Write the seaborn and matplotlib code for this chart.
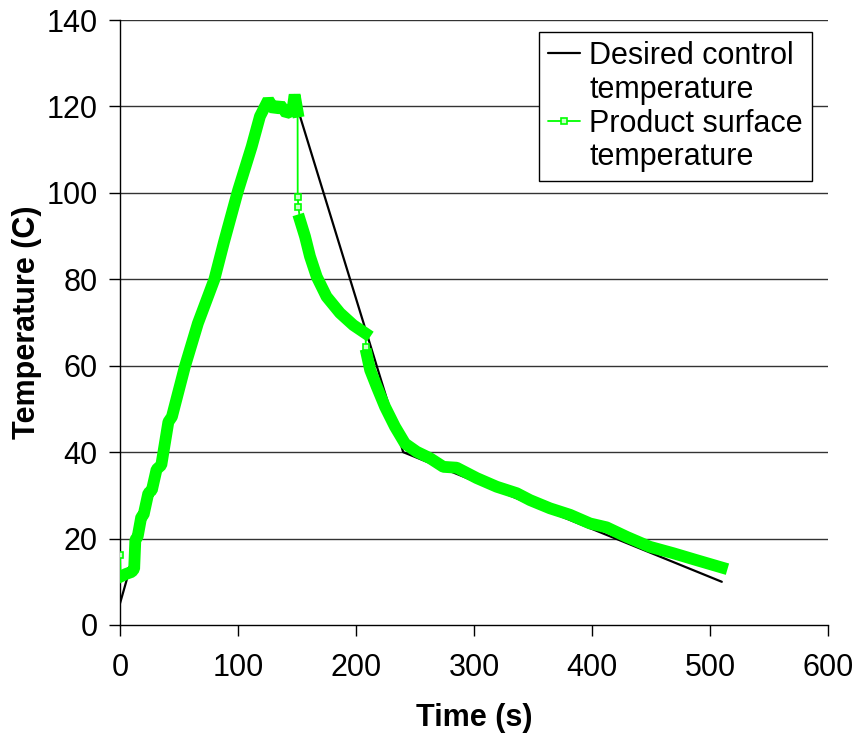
import numpy as np
import pandas as pd
import matplotlib.pyplot as plt
import seaborn as sns
from matplotlib.lines import Line2D

# desired control profile (set points)
desired_t = [0, 120, 150, 240, 510]
desired_c = [5, 120, 120, 40, 10]

surface_t = [0, 0.5, 5, 10, 12, 13, 15, 18, 20, 24, 27, 31, 35, 41, 44,
             55, 66, 80, 88, 100, 111.6, 118.6, 125.7, 131, 135.6, 141, 146, 148, 150.5,
             150.6, 151.2, 152.5, 156.8, 161, 166.7, 175, 186.4, 197.7, 208,
             208.4, 209.2, 212, 217.5, 224.6, 233, 241.5, 251.4, 262.7, 274, 285.3,
             302.3, 319.2, 336.2, 347.5, 364.4, 381.4, 398.3, 412.4, 429.4, 449,
             469, 488.7, 510]
surface_c = [16.2, 11.2, 11.8, 12.3, 13.0, 19.7, 20.5, 25.0, 25.5, 30.5, 31.2, 36.0, 37.0, 47.0, 48.2,
             59.8, 69.8, 80.0, 88.5, 100.5, 110.7, 117.7, 121.5, 119.2, 120.4, 118.4, 119.0, 122.7, 118.8,
             99.1, 96.8, 93.7, 89.9, 85.3, 80.6, 76.0, 72.2, 69.4, 67.5,
             64.4, 62.5, 59.0, 55.2, 50.5, 45.9, 42.0, 40.1, 38.6, 36.6, 36.4,
             34.0, 32.0, 30.5, 28.9, 27.0, 25.5, 23.5, 22.6, 20.4, 18.1,
             16.6, 15.0, 13.3]
# samples that stand apart from the dense trace (drawn as single markers)
isolated_idx = [0, 29, 30, 39]

x_ticks = [0, 100, 200, 300, 400, 500, 600]
y_ticks = [0, 20, 40, 60, 80, 100, 120, 140]

GREEN = "#00ff00"
FS = 22

sns.set_style("white")
plt.rcParams["font.family"] = ["Liberation Sans", "DejaVu Sans"]
plt.rcParams["text.color"] = "black"
plt.rcParams["axes.labelcolor"] = "black"

desired = pd.DataFrame({"t": desired_t, "c": desired_c})
surface = pd.DataFrame({"t": surface_t, "c": surface_c})
surface["seg"] = np.cumsum(surface.index.isin(isolated_idx))
band = surface[~surface.index.isin(isolated_idx)]
lone = surface[surface.index.isin(isolated_idx)]

fig = plt.figure(figsize=(8.57, 7.42), dpi=100)
ax = fig.add_axes([120 / 857, 117 / 742, 708 / 857, 605 / 742])

for y in y_ticks[1:]:
    ax.axhline(y, color="#333333", lw=1.0, zorder=0)

sns.lineplot(data=desired, x="t", y="c", color="black", lw=1.6,
             sort=False, estimator=None, ax=ax, zorder=2)
sns.lineplot(data=surface, x="t", y="c", color=GREEN, lw=1.3,
             sort=False, estimator=None, ax=ax, zorder=3)
sns.lineplot(data=band, x="t", y="c", units="seg", color=GREEN, lw=8.5,
             sort=False, estimator=None, ax=ax, zorder=3,
             solid_capstyle="projecting", solid_joinstyle="bevel")
ax.plot(lone["t"], lone["c"], ls="none", marker="s", ms=5, mew=1.2,
        mec=GREEN, mfc="#c8ffc8", zorder=4)

ax.set_xlim(0, 600)
ax.set_ylim(0, 140)
ax.set_xticks(x_ticks)
ax.set_yticks(y_ticks)
for s in ["top", "right"]:
    ax.spines[s].set_visible(False)
for s in ["left", "bottom"]:
    ax.spines[s].set_color("black")
    ax.spines[s].set_linewidth(1.0)
ax.tick_params(axis="x", direction="out", length=8, width=1, pad=12,
               labelsize=FS, colors="black", bottom=True)
ax.tick_params(axis="y", direction="out", length=8, width=1, pad=8,
               labelsize=FS, colors="black", left=True)

ax.set_xlabel("Time (s)", fontsize=FS, fontweight="bold")
ax.set_ylabel("Temperature (C)", fontsize=FS, fontweight="bold")
ax.xaxis.set_label_coords(0.5, -78 / 605)
ax.yaxis.set_label_coords(-78 / 708, 0.5)

# one legend row per text line so each marker sits beside the first line
blank = Line2D([], [], color="none")
handles = [Line2D([], [], color="black", lw=1.6), blank,
           Line2D([], [], color=GREEN, lw=1.3, marker="s", ms=5, mew=1.2,
                  mec=GREEN, mfc="#c8ffc8"), blank]
labels = ["Desired control", "temperature", "Product surface", "temperature"]
leg = ax.legend(handles, labels,
                loc="upper left", bbox_to_anchor=(419 / 708, 593 / 605), borderaxespad=0,
                fontsize=FS, frameon=True, fancybox=False, handlelength=1.05,
                handletextpad=0.3, labelspacing=0.12, borderpad=0.3)
leg.get_frame().set_edgecolor("black")
leg.get_frame().set_linewidth(1.0)
leg.get_frame().set_alpha(1)

fig.savefig("out.png", dpi=100)
